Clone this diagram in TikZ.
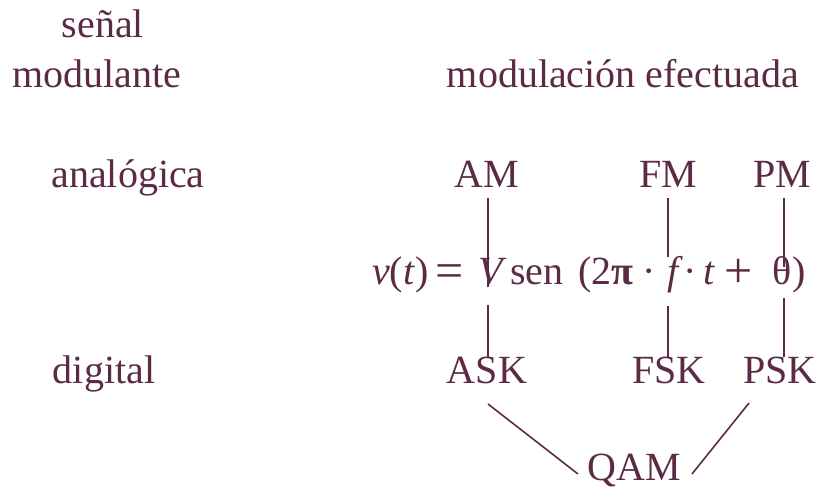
\documentclass[tikz,border=0pt]{standalone}
\usepackage{fontspec}
\setmainfont{Liberation Serif}
\definecolor{ink}{HTML}{5B2A44}
\newcommand{\piece}[2]{\makebox[#1pt][l]{#2}}
\newcommand{\bigop}[1]{\raisebox{-3pt}{\fontsize{50}{50}\selectfont #1}}
\begin{document}
\begin{tikzpicture}[x=1pt,y=-1pt,
  lbl/.style={inner sep=0pt,anchor=base,text=ink,font=\fontsize{40}{46}\selectfont},
  conn/.style={draw=ink,line width=1.6pt}]
\useasboundingbox (0,0) rectangle (821,489);
\node[lbl] (senal) at (103,38) {señal};
\node[lbl] (modul) at (97,88) {modulante};
\node[lbl] (efect) at (623,88) {modulación efectuada};
\node[lbl] (analog) at (128,187) {analógica};
\node[lbl] (digit) at (104,383) {digital};
\node[lbl] (AM) at (487,187) {AM};
\node[lbl] (FM) at (668,187) {FM};
\node[lbl] (PM) at (782,187) {PM};
\node[lbl] (ASK) at (487,383) {ASK};
\node[lbl] (FSK) at (669,383) {FSK};
\node[lbl] (PSK) at (780,383) {PSK};
\node[lbl] (QAM) at (634,480) {QAM};
\node[lbl,anchor=base west] (eq) at (372,284) {\piece{63}{\textit{v}(\textit{t})}\piece{43}{\bigop{=}}\piece{32}{\textit{V}}\piece{68}{sen}\piece{64}{(2\textbf{π}}\piece{25}{·}\piece{16}{\textit{f}}\piece{20}{·}\piece{21}{\textit{t}}\piece{48}{\bigop{+}}\piece{20}{θ})};
\coordinate (a1) at (488,198); \coordinate (a2) at (488,287);
\coordinate (a3) at (488,305); \coordinate (a4) at (488,357);
\coordinate (f1) at (668,198); \coordinate (f2) at (668,257);
\coordinate (f3) at (668,306); \coordinate (f4) at (668,357);
\coordinate (p1) at (784,198); \coordinate (p2) at (784,267);
\coordinate (p3) at (784,298); \coordinate (p4) at (784,357);
\coordinate (q1) at (488,404); \coordinate (q2) at (578,474);
\coordinate (q3) at (749,403); \coordinate (q4) at (692,474);
\draw[conn] (a1) -- (a2) (a3) -- (a4);
\draw[conn] (f1) -- (f2) (f3) -- (f4);
\draw[conn] (p1) -- (p2) (p3) -- (p4);
\draw[conn] (q1) -- (q2) (q3) -- (q4);
\end{tikzpicture}
\end{document}
